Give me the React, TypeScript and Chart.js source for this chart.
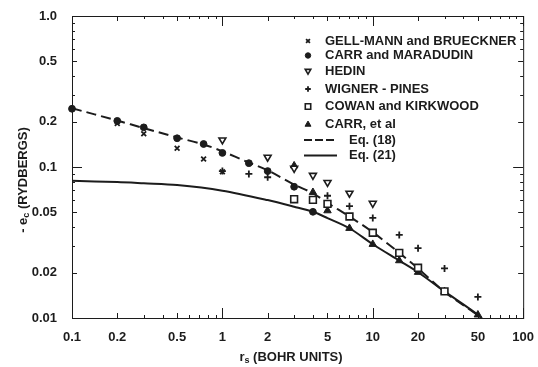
import React, { useEffect, useRef } from 'react';
import { Chart, registerables } from 'chart.js';
import { drawPoint } from 'chart.js/helpers';

Chart.register(...registerables);

const INK = '#1c1c1c';
const FONT = '"Liberation Sans", Arial, sans-serif';

// Gell-Mann and Brueckner (x)
const gmX = [0.2, 0.3, 0.5, 0.75, 1];
const gmY = [0.194, 0.166, 0.133, 0.113, 0.093];
// Carr and Maradudin (filled dot)
const cmX = [0.1, 0.2, 0.3, 0.5, 0.75, 1, 1.5, 2, 3, 4];
const cmY = [0.243, 0.202, 0.183, 0.155, 0.142, 0.124, 0.106, 0.094, 0.074, 0.0505];
// Hedin (open down triangle)
const hedinX = [1, 2, 3, 4, 5, 7, 10];
const hedinY = [0.151, 0.116, 0.098, 0.088, 0.079, 0.067, 0.0575];
// Wigner - Pines (+)
const wpX = [1, 1.5, 2, 5, 7, 10, 15, 20, 30, 50];
const wpY = [0.094, 0.09, 0.0855, 0.0645, 0.055, 0.046, 0.0355, 0.029, 0.0213, 0.0138];
// Cowan and Kirkwood (open square)
const ckX = [3, 4, 5, 7, 10, 15, 20, 30];
const ckY = [0.0612, 0.0606, 0.057, 0.047, 0.0367, 0.027, 0.0215, 0.015];
// Carr, et al (filled triangle)
const caX = [3, 4, 5, 7, 10, 15, 20, 30, 50];
const caY = [0.102, 0.068, 0.0514, 0.0393, 0.0308, 0.024, 0.0201, 0.015, 0.0105];
// Eq. (18) dashed curve
const eq18X = [0.1, 0.2, 0.3, 0.5, 0.75, 1, 1.5, 2, 3, 4, 5, 7, 10, 15, 20, 30, 50, 60];
const eq18Y = [0.245, 0.203, 0.181, 0.157, 0.141, 0.127, 0.107, 0.095, 0.0765, 0.067, 0.0578, 0.047, 0.037, 0.027, 0.0213, 0.0149, 0.0104, 0.0088];
// Eq. (21) solid curve
const eq21X = [0.1, 0.2, 0.3, 0.5, 1, 2, 3, 4, 5, 7, 10, 15, 20, 30, 50, 60];
const eq21Y = [0.081, 0.0795, 0.078, 0.076, 0.0697, 0.0604, 0.0546, 0.0505, 0.0459, 0.0393, 0.0308, 0.024, 0.0201, 0.015, 0.0105, 0.0088];

const xTickValues = [0.1, 0.2, 0.5, 1, 2, 5, 10, 20, 50, 100];
const xTickLabels = ['0.1', '0.2', '0.5', '1', '2', '5', '10', '20', '50', '100'];
const yTickValues = [0.01, 0.02, 0.05, 0.1, 0.2, 0.5, 1];
const yTickLabels = ['0.01', '0.02', '0.05', '0.1', '0.2', '0.5', '1.0'];

const legendLabels = [
  'GELL-MANN and BRUECKNER',
  'CARR and MARADUDIN',
  'HEDIN',
  'WIGNER - PINES',
  'COWAN and KIRKWOOD',
  'CARR, et al',
  'Eq. (18)',
  'Eq. (21)',
];

const pts = (xs: number[], ys: number[]) => xs.map((x, i) => ({ x, y: ys[i] }));

const LEGEND_ROWS = [41, 55.5, 71, 89, 106.5, 124.5, 140, 155.5];

const decorPlugin = {
  id: 'decor',
  afterDraw(chart: any) {
    const { ctx, chartArea: a, scales } = chart;
    const xs = scales.x;
    const ys = scales.y;
    ctx.save();
    ctx.strokeStyle = INK;
    ctx.lineWidth = 1;
    ctx.strokeRect(a.left + 0.5, a.top + 0.5, a.right - a.left, a.bottom - a.top);
    const tickLen = (m: number) => (m === 1 ? 10 : m === 2 || m === 5 ? 5 : 3);
    ctx.beginPath();
    for (let d = -1; d <= 2; d++) {
      for (let m = 1; m <= 9; m++) {
        const v = m * Math.pow(10, d);
        if (v < 0.1 - 1e-9 || v > 100 + 1e-9) continue;
        const px = Math.round(xs.getPixelForValue(v)) + 0.5;
        const L = tickLen(m);
        ctx.moveTo(px, a.bottom);
        ctx.lineTo(px, a.bottom - L);
        ctx.moveTo(px, a.top);
        ctx.lineTo(px, a.top + L);
      }
    }
    for (let d = -2; d <= 0; d++) {
      for (let m = 1; m <= 9; m++) {
        const v = m * Math.pow(10, d);
        if (v < 0.01 - 1e-9 || v > 1 + 1e-9) continue;
        const py = Math.round(ys.getPixelForValue(v)) + 0.5;
        const L = tickLen(m);
        ctx.moveTo(a.left, py);
        ctx.lineTo(a.left + L, py);
        ctx.moveTo(a.right, py);
        ctx.lineTo(a.right - L, py);
      }
    }
    ctx.stroke();

    // axis titles
    ctx.fillStyle = INK;
    ctx.textBaseline = 'middle';
    const big = `bold 13px ${FONT}`;
    const small = `bold 9px ${FONT}`;
    const drawSubTitle = (a1: string, sub: string, rest: string, cx: number, cy: number) => {
      ctx.font = big;
      const w1 = ctx.measureText(a1).width;
      const w3 = ctx.measureText(rest).width;
      ctx.font = small;
      const w2 = ctx.measureText(sub).width;
      let x0 = cx - (w1 + w2 + w3) / 2;
      ctx.textAlign = 'left';
      ctx.font = big;
      ctx.fillText(a1, x0, cy);
      x0 += w1;
      ctx.font = small;
      ctx.fillText(sub, x0, cy + 4);
      x0 += w2;
      ctx.font = big;
      ctx.fillText(rest, x0, cy);
    };
    drawSubTitle('r', 's', ' (BOHR UNITS)', 291, 357);
    ctx.save();
    ctx.translate(23, 180);
    ctx.rotate(-Math.PI / 2);
    drawSubTitle('- e', 'c', ' (RYDBERGS)', 0, 0);
    ctx.restore();

    // legend
    const lx = 308;
    const tx = 325;
    const legFont = `bold 13px ${FONT}`;
    chart.data.datasets.forEach((ds: any, i: number) => {
      const y = LEGEND_ROWS[i];
      ctx.font = legFont;
      ctx.fillStyle = INK;
      ctx.textAlign = 'left';
      if (ds.showLine) {
        ctx.save();
        ctx.lineWidth = 2;
        ctx.strokeStyle = INK;
        ctx.setLineDash(ds.borderDash ? [8, 3] : []);
        ctx.beginPath();
        ctx.moveTo(304, y);
        ctx.lineTo(337, y);
        ctx.stroke();
        ctx.restore();
        ctx.fillText(legendLabels[i], 349, y);
      } else {
        ctx.save();
        ctx.fillStyle = ds.pointBackgroundColor;
        ctx.strokeStyle = INK;
        ctx.lineWidth = ds.pointBorderWidth;
        drawPoint(ctx, {
          pointStyle: ds.pointStyle,
          radius: ds.pointRadius * 0.8,
          rotation: ds.pointRotation || 0,
          borderWidth: ds.pointBorderWidth,
        } as any, lx, y);
        ctx.restore();
        ctx.fillText(legendLabels[i], tx, y);
      }
    });
    ctx.restore();
  },
};

const scatterDs = (data: any[], style: string, radius: number, bg: string, bw: number, rot = 0) => ({
  type: 'scatter' as const,
  data,
  showLine: false,
  pointStyle: style,
  pointRadius: radius,
  pointRotation: rot,
  pointBackgroundColor: bg,
  pointBorderColor: INK,
  pointBorderWidth: bw,
  clip: false as any,
});

export default function App() {
  const ref = useRef<HTMLCanvasElement>(null);
  useEffect(() => {
    if (!ref.current) return;
    const chart = new Chart(ref.current, {
      type: 'scatter',
      data: {
        datasets: [
          scatterDs(pts(gmX, gmY), 'crossRot', 3.4, INK, 1.8),
          scatterDs(pts(cmX, cmY), 'circle', 3.4, INK, 1),
          scatterDs(pts(hedinX, hedinY), 'triangle', 4, '#ffffff', 1.6, 180),
          scatterDs(pts(wpX, wpY), 'cross', 3.5, INK, 1.8),
          scatterDs(pts(ckX, ckY), 'rect', 4.8, '#ffffff', 1.6),
          scatterDs(pts(caX, caY), 'triangle', 4.3, INK, 1),
          {
            type: 'line' as const,
            data: pts(eq18X, eq18Y),
            showLine: true,
            borderColor: INK,
            borderWidth: 2,
            borderDash: [10, 5],
            pointRadius: 0,
            tension: 0.3,
            fill: false,
          } as any,
          {
            type: 'line' as const,
            data: pts(eq21X, eq21Y),
            showLine: true,
            borderColor: INK,
            borderWidth: 2,
            pointRadius: 0,
            tension: 0.3,
            fill: false,
          } as any,
        ],
      },
      options: {
        responsive: false,
        animation: false,
        layout: { padding: { top: 16, right: 14, left: 0, bottom: 0 } },
        plugins: { legend: { display: false }, tooltip: { enabled: false } },
        scales: {
          x: {
            type: 'logarithmic',
            min: 0.1,
            max: 100,
            grid: { display: false },
            border: { display: false },
            afterBuildTicks: (s: any) => {
              s.ticks = xTickValues.map((v) => ({ value: v }));
            },
            afterFit: (s: any) => {
              s.height = 49;
            },
            ticks: {
              autoSkip: false,
              maxRotation: 0,
              padding: 4,
              color: INK,
              font: { family: FONT, size: 13, weight: 'bold' },
              callback: (v: any) => {
                const i = xTickValues.indexOf(Number(v));
                return i >= 0 ? xTickLabels[i] : '';
              },
            },
          },
          y: {
            type: 'logarithmic',
            min: 0.01,
            max: 1,
            grid: { display: false },
            border: { display: false },
            afterBuildTicks: (s: any) => {
              s.ticks = yTickValues.map((v) => ({ value: v }));
            },
            afterFit: (s: any) => {
              s.width = 72;
            },
            ticks: {
              autoSkip: false,
              padding: 7,
              color: INK,
              font: { family: FONT, size: 13, weight: 'bold' },
              callback: (v: any) => {
                const i = yTickValues.indexOf(Number(v));
                return i >= 0 ? yTickLabels[i] : '';
              },
            },
          },
        },
      } as any,
      plugins: [decorPlugin],
    });
    return () => chart.destroy();
  }, []);
  return (
    <div style={{ position: 'absolute', left: 0, top: 0, width: 538, height: 367, background: '#fff' }}>
      <canvas ref={ref} width={538} height={367} style={{ display: 'block' }} />
    </div>
  );
}
